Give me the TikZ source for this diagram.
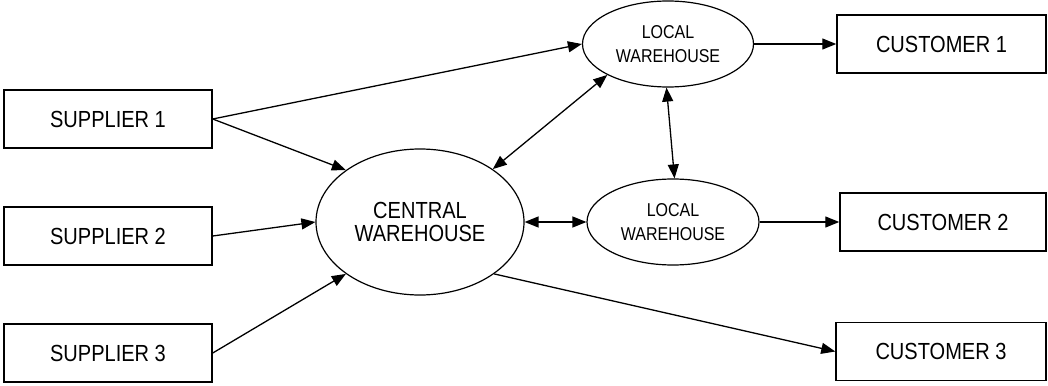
\documentclass[tikz,border=0pt]{standalone}
\usepackage{fontspec}
\setmainfont{Liberation Sans}[FakeStretch=0.86]
\usetikzlibrary{shapes.geometric,arrows.meta}
\begin{document}
\begin{tikzpicture}[x=1pt,y=-1pt,
  box/.style={draw,line width=1.5pt,minimum width=208pt,minimum height=58pt,inner sep=0pt,
    font=\fontsize{23.3}{26}\selectfont},
  bigell/.style={draw,ellipse,line width=1.2pt,inner sep=0pt,align=center,
    font=\fontsize{23.3}{23}\selectfont},
  smallell/.style={draw,ellipse,line width=1.2pt,inner sep=0pt,align=center,
    font=\fontsize{18.6}{24}\selectfont},
  arr/.style={line width=1.3pt,-{Triangle[length=14pt,width=11pt]}},
  darr/.style={line width=1.3pt,{Triangle[length=14pt,width=11pt]}-{Triangle[length=14pt,width=11pt]}}
]
\useasboundingbox (0,0) rectangle (1048,385);

\node[box] (s1) at (108,119) {SUPPLIER 1};
\node[box] (s2) at (108,236) {SUPPLIER 2};
\node[box] (s3) at (108,353) {SUPPLIER 3};

\node[bigell,minimum width=208pt,minimum height=146pt] (cw) at (420,222) {CENTRAL\\WAREHOUSE};
\node[smallell,minimum width=171pt,minimum height=86pt] (lw1) at (668,44) {LOCAL\\WAREHOUSE};
\node[smallell,minimum width=172pt,minimum height=86pt] (lw2) at (673,222) {LOCAL\\WAREHOUSE};

\node[box,minimum width=209pt] (c1) at (941.5,44) {CUSTOMER 1};
\node[box,minimum width=206pt] (c2) at (943,222) {CUSTOMER 2};
\node[box,minimum width=210pt] (c3) at (941,351.5) {CUSTOMER 3};

\draw[arr] (s1.east) -- (lw1.west);
\draw[arr] (s1.east) -- (cw.145);
\draw[arr] (s2.east) -- (cw.west);
\draw[arr] (s3.east) -- (cw.215);
\draw[darr] (cw.36) -- (lw1.207);
\draw[darr] (lw1.268) -- (lw2.88);
\draw[darr] (cw.east) -- (lw2.west);
\draw[arr] (lw1.east) -- (c1.west);
\draw[arr] (lw2.east) -- (c2.west);
\draw[arr] (cw.325) -- (c3.west);
\end{tikzpicture}
\end{document}
